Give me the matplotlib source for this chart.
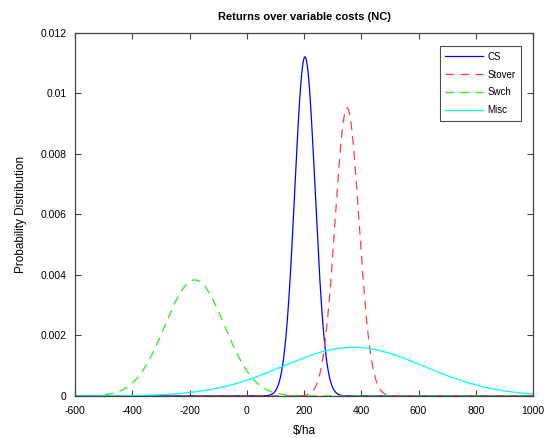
import numpy as np
import matplotlib
matplotlib.use('Agg')
import matplotlib.pyplot as plt

plt.rcParams['font.family'] = ['Liberation Sans', 'DejaVu Sans']
plt.rcParams['axes.unicode_minus'] = False

# normal fits of returns over variable costs, $/ha
NAMES = ['CS', 'Stover', 'Swch', 'Misc']
MEANS = [203.0, 350.0, -182.0, 372.0]
STDS = [35.6, 41.9, 104.0, 248.0]
COLORS = ['#0000ff', '#ff4040', '#20ee20', '#00ffff']
STYLES = ['-', (0, (7, 5)), (0, (7, 5)), '-']

XTICKS = np.arange(-600, 1001, 200)
YTICKS = [0, 0.002, 0.004, 0.006, 0.008, 0.01, 0.012]
YTICK_LABELS = ['0', '0.002', '0.004', '0.006', '0.008', '0.01', '0.012']


def normpdf(x, mu, sd):
    return np.exp(-0.5 * ((x - mu) / sd) ** 2) / (sd * np.sqrt(2 * np.pi))


fig = plt.figure(figsize=(5.44, 4.38), dpi=100)
ax = fig.add_axes([0.138, 0.096, 0.842, 0.829])

x = np.linspace(-600, 1000, 2001)
for name, mu, sd, col, ls in zip(NAMES, MEANS, STDS, COLORS, STYLES):
    ax.plot(x, normpdf(x, mu, sd), color=col, linestyle=ls, linewidth=0.9, label=name)

ax.set_xlim(-600, 1000)
ax.set_ylim(0, 0.012)
ax.set_xticks(XTICKS)
ax.set_yticks(YTICKS)
ax.set_yticklabels(YTICK_LABELS)
ax.tick_params(direction='in', top=True, right=True, labelsize=7.5, length=4,
               width=0.8, color='#444444')
ax.tick_params(axis='x', pad=7)
ax.tick_params(axis='y', pad=6)
for sp in ax.spines.values():
    sp.set_color('#444444')
    sp.set_linewidth(0.9)

ax.set_title('Returns over variable costs (NC)', fontsize=8, fontweight='bold', pad=9)
ax.set_xlabel('$/ha', fontsize=8.5, labelpad=7)
ax.set_ylabel('Probability Distribution', fontsize=8.5, labelpad=10)

leg = ax.legend(loc='upper right', bbox_to_anchor=(0.974, 0.964), fontsize=7,
                frameon=True, fancybox=False, handlelength=3.9, handletextpad=0.4,
                labelspacing=0.8, borderpad=0.6, borderaxespad=0.0)
leg.get_frame().set_edgecolor('#222222')
leg.get_frame().set_linewidth(0.8)

fig.savefig('out.png', dpi=100)
